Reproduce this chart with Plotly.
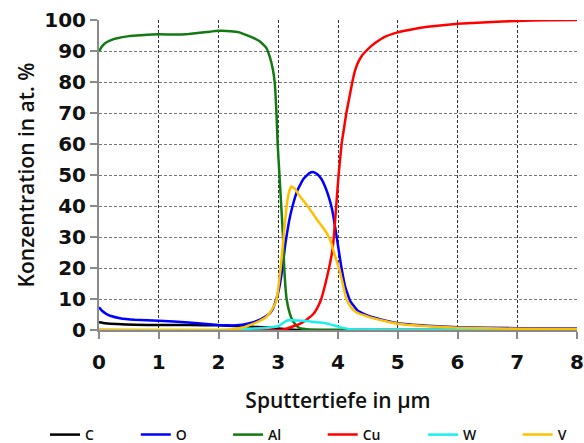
import plotly.graph_objects as go

# ---- data ----
C_x = [0, 0.1, 0.3, 0.6, 1.0, 1.5, 2.0, 2.3, 2.5, 2.8, 3.0, 3.2, 3.4, 8.0]
C_y = [2.5, 2.2, 1.9, 1.7, 1.6, 1.6, 1.5, 1.3, 1.1, 0.8, 0.5, 0.2, 0.0, 0.0]

O_x = [0, 0.05, 0.12, 0.2, 0.35, 0.6, 1.0, 1.5, 2.0, 2.3, 2.5, 2.7, 2.85, 2.9, 2.96, 3.01, 3.07, 3.12,
       3.18, 3.24, 3.32, 3.42, 3.52, 3.58, 3.65, 3.72, 3.8, 3.86, 3.9, 3.97, 4.05, 4.12, 4.2, 4.33,
       4.5, 4.8, 5.0, 5.5, 6.0, 7.0, 8.0]
O_y = [7.3, 6.2, 5.2, 4.5, 3.8, 3.3, 3.0, 2.4, 1.6, 1.5, 2.1, 3.4, 5.2, 6.5, 9.5, 13, 20, 28,
       35, 40, 45, 48.7, 50.6, 51.0, 50.3, 48.8, 45.5, 42, 39, 31, 21, 14, 9.5, 6.2,
       4.6, 3.0, 2.2, 1.4, 0.9, 0.6, 0.5]

Al_x = [0, 0.05, 0.1, 0.2, 0.3, 0.5, 0.7, 1.0, 1.3, 1.5, 1.8, 2.0, 2.2, 2.35, 2.46, 2.6, 2.7, 2.8,
        2.86, 2.91, 2.94, 2.97, 2.99, 3.02, 3.05, 3.08, 3.1, 3.14, 3.19, 3.24, 3.3, 3.36, 3.5, 4.0, 8.0]
Al_y = [90, 91.5, 92.5, 93.5, 94.1, 94.8, 95.1, 95.4, 95.3, 95.5, 96.1, 96.5, 96.4, 96.0, 95.2, 94.1, 93.0, 91.0,
        88, 84, 80, 70, 60, 50, 40, 30, 20, 10, 5.5, 3.0, 1.5, 0.6, 0.2, 0.0, 0.0]

Cu_x = [0, 3.05, 3.15, 3.25, 3.36, 3.45, 3.52, 3.58, 3.65, 3.72, 3.79, 3.85, 3.9, 3.93, 3.97, 4.01,
        4.06, 4.1, 4.14, 4.19, 4.24, 4.29, 4.34, 4.4, 4.47, 4.55, 4.65, 4.8, 5.0, 5.25, 5.5, 6.0, 6.5, 7.0, 7.5, 8.0]
Cu_y = [0, 0, 0.5, 1.2, 2.0, 3.0, 4.0, 5.0, 7.0, 10, 15, 20, 25, 30, 40, 50,
        60, 65, 70, 75, 80, 84, 86.5, 88.5, 90, 91.5, 93, 94.7, 96.0, 97.0, 97.8, 98.8, 99.3, 99.7, 99.9, 100]

W_x = [0, 2.1, 2.3, 2.5, 2.7, 2.9, 3.0, 3.06, 3.12, 3.19, 3.3, 3.5, 3.7, 3.86, 4.0, 4.1, 4.24, 4.5, 5.0, 8.0]
W_y = [0, 0, 0.2, 0.4, 0.6, 0.9, 1.2, 2.0, 2.8, 3.2, 3.1, 2.8, 2.4, 1.9, 1.1, 0.6, 0.2, 0.05, 0, 0]

V_x = [0, 2.0, 2.2, 2.4, 2.58, 2.7, 2.8, 2.87, 2.92, 2.96, 2.99, 3.04, 3.09, 3.14, 3.18, 3.22, 3.28,
       3.35, 3.47, 3.57, 3.67, 3.77, 3.87, 3.95, 4.03, 4.09, 4.14, 4.22, 4.3, 4.5, 4.8, 5.0, 5.5, 6.0, 7.0, 8.0]
V_y = [0, 0, 0.2, 0.8, 2.0, 3.0, 4.2, 5.8, 7.5, 9.0, 12, 20, 30, 40, 44.5, 46.3, 45.5,
       43.5, 40.5, 37.8, 35, 32.5, 29, 24, 19, 14, 10, 7.3, 5.8, 4.3, 2.8, 2.0, 1.2, 0.75, 0.4, 0.3]

series = [
    ("C", C_x, C_y, "#000000"),
    ("O", O_x, O_y, "#0000ff"),
    ("Al", Al_x, Al_y, "#137a13"),
    ("Cu", Cu_x, Cu_y, "#ff0000"),
    ("W", W_x, W_y, "#19f0f0"),
    ("V", V_x, V_y, "#ffc000"),
]

x_ticks = [0, 1, 2, 3, 4, 5, 6, 7, 8]
y_ticks = [0, 10, 20, 30, 40, 50, 60, 70, 80, 90, 100]

FONT = "Open Sans"
TICKFONT = "DejaVu Sans"

# one legend per entry so that each sits where the reference places it
legend_x = [-0.113, 0.077, 0.270, 0.468, 0.678, 0.876]
legend_ids = ["legend", "legend2", "legend3", "legend4", "legend5", "legend6"]

fig = go.Figure()
for (name, xs, ys, col), lid in zip(series, legend_ids):
    fig.add_trace(go.Scatter(
        x=xs, y=ys, name=name, mode="lines", legend=lid,
        line=dict(color=col, width=2.5, shape="spline", smoothing=0.3),
    ))

legend_common = dict(
    orientation="h", xanchor="left", y=-0.3387, yanchor="middle",
    font=dict(size=14, family=FONT, weight=600, color="#111111"),
    bgcolor="rgba(0,0,0,0)",
)
layout_legends = {lid: dict(legend_common, x=lx) for lid, lx in zip(legend_ids, legend_x)}

fig.update_layout(
    width=584, height=443,
    margin=dict(l=99, r=7, t=20, b=113, autoexpand=False),
    paper_bgcolor="white", plot_bgcolor="white",
    font=dict(family=FONT, color="#111111"),
    showlegend=True,
    **layout_legends,
)

fig.update_xaxes(
    range=[0, 8], tickvals=x_ticks, ticktext=[str(v) for v in x_ticks],
    showgrid=True, gridcolor="#333333", gridwidth=1.3, griddash="3px,2px",
    showline=True, linecolor="#8a8a8a", linewidth=2,
    ticks="outside", ticklen=7, tickcolor="#8a8a8a", tickwidth=1.5,
    ticklabelstandoff=6,
    tickfont=dict(size=20, family=TICKFONT, weight="bold", color="#111111"),
    title=dict(text="Sputtertiefe in µm", font=dict(size=21, family=FONT, weight=600, color="#111111"), standoff=20),
    zeroline=False,
)
fig.update_yaxes(
    range=[0, 100], tickvals=y_ticks, ticktext=[str(v) for v in y_ticks],
    showgrid=True, gridcolor="#777777", gridwidth=1, griddash="3px,2px",
    showline=True, linecolor="#8a8a8a", linewidth=2,
    ticks="outside", ticklen=7, tickcolor="#8a8a8a", tickwidth=1.5,
    tickfont=dict(size=20, family=TICKFONT, weight="bold", color="#111111"),
    title=dict(text="Konzentration in at. %", font=dict(size=21, family=FONT, weight=600, color="#111111"), standoff=4),
    zeroline=False,
)

fig.write_html("out.html")
